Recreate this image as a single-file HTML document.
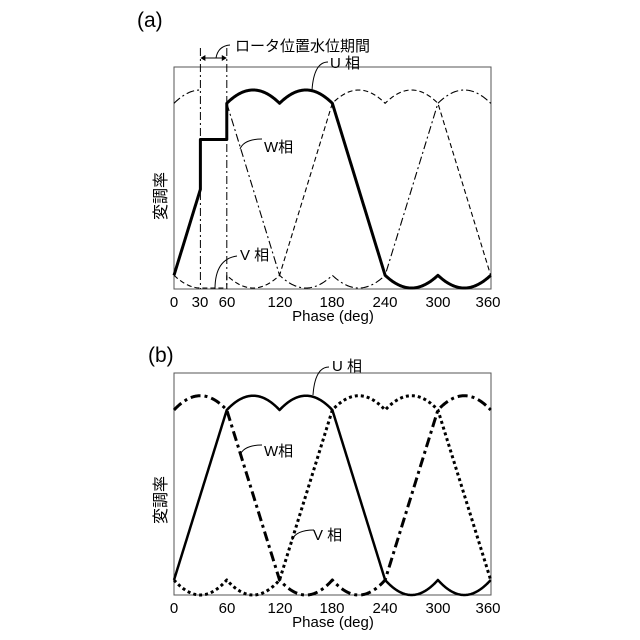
<!DOCTYPE html>
<html><head><meta charset="utf-8"><style>
body{margin:0;background:#fff;}
svg{display:block;}
text{font-family:"Liberation Sans","Noto Sans CJK JP",sans-serif;fill:#000;}
</style></head><body>
<svg id="s" width="640" height="640" viewBox="0 0 640 640" xmlns="http://www.w3.org/2000/svg">
<rect x="0" y="0" width="640" height="640" fill="#fff"/>
<!-- (a) -->
<text x="137" y="27" font-size="21">(a)</text>
<rect x="174" y="67" width="317" height="222" fill="none" stroke="#555" stroke-width="1"/>
<line x1="200.4" y1="48" x2="200.4" y2="289" stroke="#000" stroke-width="1" stroke-dasharray="8,3,2,3"/>
<line x1="226.8" y1="48" x2="226.8" y2="289" stroke="#000" stroke-width="1" stroke-dasharray="8,3,2,3"/>
<line x1="202" y1="58" x2="225" y2="58" stroke="#000" stroke-width="1"/>
<path d="M200.4,58 l5,-3 v6 z M226.8,58 l-5,-3 v6 z" fill="#000"/>
<path d="M216,58 q2,-12 14,-13" fill="none" stroke="#000" stroke-width="1"/>
<text x="235" y="51" font-size="15">ロータ位置水位期間</text>
<path d="M312,90 q2,-28 16,-28" fill="none" stroke="#000" stroke-width="1"/>
<text x="330" y="68" font-size="15">U 相</text>
<path d="M240,149 q4,-10 22,-10" fill="none" stroke="#000" stroke-width="1"/>
<text x="264" y="152" font-size="15">W相</text>
<path d="M215,289 q0,-30 22,-33" fill="none" stroke="#000" stroke-width="1"/>
<text x="240" y="260" font-size="15">V 相</text>
<text transform="translate(166,196) rotate(-90)" font-size="16" text-anchor="middle">変調率</text>
<g font-size="15" text-anchor="middle">
<text x="174" y="307">0</text><text x="200" y="307">30</text><text x="227" y="307">60</text>
<text x="280" y="307">120</text><text x="332" y="307">180</text><text x="385" y="307">240</text>
<text x="438" y="307">300</text><text x="488" y="307">360</text>
<text x="333" y="321">Phase (deg)</text>
</g>
<!-- (b) -->
<text x="148" y="362" font-size="21">(b)</text>
<rect x="174" y="373" width="317" height="222" fill="none" stroke="#555" stroke-width="1"/>
<path d="M313,395 q2,-28 16,-28" fill="none" stroke="#000" stroke-width="1"/>
<text x="332" y="371" font-size="15">U 相</text>
<path d="M240,455 q4,-10 22,-10" fill="none" stroke="#000" stroke-width="1"/>
<text x="264" y="456" font-size="15">W相</text>
<path d="M292,540 q4,-10 22,-10" fill="none" stroke="#000" stroke-width="1"/>
<text x="313" y="540" font-size="15">V 相</text>
<text transform="translate(166,500) rotate(-90)" font-size="16" text-anchor="middle">変調率</text>
<g font-size="15" text-anchor="middle">
<text x="174" y="613">0</text><text x="227" y="613">60</text>
<text x="280" y="613">120</text><text x="332" y="613">180</text><text x="385" y="613">240</text>
<text x="438" y="613">300</text><text x="488" y="613">360</text>
<text x="333" y="627">Phase (deg)</text>
</g>
<g id="g"></g>
</svg>
<script>
var K=(1-Math.cos(Math.PI/6));
function U(t,L){t=((t%360)+360)%360;
 if(t<=60)return L.L+(L.D-L.L)*t/60;
 if(t<=180){var c=t<120?90:150,d=(t-c)*Math.PI/180;return L.T+(L.D-L.T)*(1-Math.cos(d))/K;}
 if(t<=240)return L.D+(L.L-L.D)*(t-180)/60;
 var c2=t<300?270:330,d2=(t-c2)*Math.PI/180;return L.B+(L.L-L.B)*(1-Math.cos(d2))/K;}
function X(t){return 174+t*316.7/360;}
function path(f,a,b){var s="";for(var t=a;t<=b+1e-9;t+=1){s+=(s?"L":"M")+X(t).toFixed(2)+","+f(t).toFixed(2);}return s;}
var g=document.getElementById("g"),ns="http://www.w3.org/2000/svg";
function add(d,w,da){var p=document.createElementNS(ns,"path");p.setAttribute("d",d);p.setAttribute("fill","none");p.setAttribute("stroke","#000");p.setAttribute("stroke-width",w);p.setAttribute("stroke-linejoin","round");if(da)p.setAttribute("stroke-dasharray",da);g.appendChild(p);}
var A={T:90,D:103.3,L:275.3,B:288};
var Bl={T:395.7,D:410,L:580,B:595};
var ua=function(t){return U(t,A)},va=function(t){return U(t-120,A)},wa=function(t){return U(t-240,A)};
add(path(va,0,30)+"L"+X(30)+","+A.B+"L"+X(60)+","+A.B+path(va,60,360).replace("M","L"),1.1,"5,3");
add(path(wa,0,30),1.1,"8,3,2,3");
add(path(wa,60,360),1.1,"8,3,2,3");
add(path(ua,0,30)+"L"+X(30)+",139.5L"+X(60)+",139.5"+path(ua,60,360).replace("M","L"),3,null);
add(path(function(t){return U(t-120,Bl)},0,360),3,"3,3");
add(path(function(t){return U(t-240,Bl)},0,360),3,"10,4,3,4");
add(path(function(t){return U(t,Bl)},0,360),2.5,null);
</script>
</body></html>
